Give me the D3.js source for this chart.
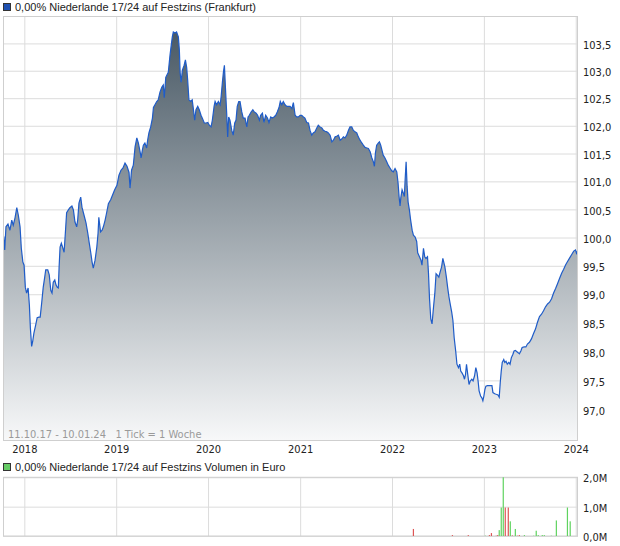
<!DOCTYPE html>
<html><head><meta charset="utf-8">
<script src="https://cdn.jsdelivr.net/npm/d3@7"></script>
<style>body{margin:0;background:#fff;} svg{display:block;}</style>
</head><body><svg id="c" width="620" height="546"></svg>
<script>
// ---------- data ----------
const titleText = "0,00% Niederlande 17/24 auf Festzins (Frankfurt)";
const volumeTitleText = "0,00% Niederlande 17/24 auf Festzins Volumen in Euro";
const rangeNote = "11.10.17 - 10.01.24   1 Tick = 1 Woche";
const startDate = "2017-10-11";
const endDate = "2024-01-10";
const yearTicks = ["2018","2019","2020","2021","2022","2023","2024"];
const priceTicks = [97.0,97.5,98.0,98.5,99.0,99.5,100.0,100.5,101.0,101.5,102.0,102.5,103.0,103.5];
const volumeTicks = [0, 1000000, 2000000];
// days after startDate
const priceDays = [0,4,9,17,25,32,38,45,52,58,65,70,76,81,86,91,97,102,106,111,115,120,127,133,140,145,151,157,163,167,175,181,187,192,197,203,208,213,217,220,224,229,234,240,245,250,257,263,271,277,283,290,294,299,306,311,319,327,334,340,346,351,356,363,370,375,378,380,385,391,396,403,409,416,425,433,441,450,458,466,474,482,490,498,502,508,515,522,529,535,542,546,551,555,561,568,572,577,584,591,595,601,608,614,621,628,634,638,644,654,661,665,670,674,681,687,694,698,701,705,710,717,722,727,731,736,743,749,753,759,764,771,777,784,791,797,804,811,817,824,829,836,840,846,853,860,864,869,873,877,881,886,890,894,899,906,912,918,923,928,934,939,946,952,959,966,971,976,983,990,996,1003,1009,1016,1021,1028,1034,1041,1048,1054,1061,1067,1074,1081,1087,1094,1099,1105,1111,1118,1125,1131,1138,1145,1151,1158,1164,1171,1178,1184,1191,1197,1204,1211,1217,1224,1230,1237,1244,1250,1257,1264,1270,1277,1284,1290,1297,1304,1310,1317,1323,1330,1337,1343,1350,1356,1363,1370,1376,1383,1389,1396,1403,1409,1416,1423,1429,1436,1443,1449,1456,1463,1469,1473,1477,1482,1489,1493,1498,1503,1508,1515,1522,1528,1535,1542,1548,1555,1562,1567,1571,1575,1578,1583,1588,1592,1595,1599,1603,1607,1612,1617,1623,1628,1635,1641,1645,1652,1658,1662,1668,1673,1678,1684,1688,1692,1697,1702,1708,1713,1718,1724,1729,1734,1740,1745,1753,1759,1764,1769,1775,1780,1785,1790,1796,1801,1807,1812,1816,1821,1827,1831,1835,1839,1844,1849,1854,1860,1865,1871,1876,1881,1885,1889,1895,1900,1904,1908,1912,1916,1922,1928,1935,1940,1944,1951,1957,1964,1969,1973,1977,1981,1987,1991,1996,2001,2007,2012,2017,2023,2028,2033,2038,2044,2049,2055,2060,2068,2075,2081,2089,2097,2105,2113,2121,2129,2137,2145,2153,2161,2169,2177,2185,2193,2201,2209,2217,2225,2233,2241,2249,2257,2265,2272,2276,2282];
const prices = [100.02,99.78,100.19,100.24,100.13,100.31,100.22,100.35,100.53,100.40,100.19,99.81,99.57,99.51,99.12,99.02,99.11,98.81,98.41,98.09,98.17,98.32,98.46,98.59,98.60,98.60,98.85,99.12,99.30,99.43,99.43,99.34,99.07,99.02,99.21,99.25,99.16,99.12,99.11,99.46,99.83,99.90,99.83,99.74,100.08,100.44,100.49,100.53,100.56,100.49,100.28,100.19,100.31,100.61,100.72,100.54,100.40,100.26,100.08,99.90,99.73,99.57,99.46,99.60,99.83,100.08,100.36,100.28,100.10,100.13,100.19,100.31,100.44,100.60,100.67,100.76,100.85,100.93,101.11,101.20,101.24,101.33,101.27,101.16,100.88,101.20,101.29,101.62,101.78,101.69,101.53,101.42,101.56,101.65,101.69,101.60,101.74,101.87,101.98,102.14,102.33,102.38,102.44,102.47,102.61,102.70,102.74,102.51,102.88,102.97,103.29,103.44,103.62,103.71,103.69,103.71,103.62,103.38,102.97,102.79,103.01,103.10,103.20,103.06,102.83,102.47,102.44,102.47,102.33,102.10,102.29,102.35,102.29,102.19,102.12,102.05,102.05,102.06,102.01,101.98,102.10,102.35,102.44,102.38,102.44,102.38,102.53,102.79,102.97,103.10,102.70,102.23,101.80,102.16,102.10,101.92,101.83,102.05,102.10,102.35,102.44,102.44,102.25,102.14,102.14,101.98,102.16,102.19,102.25,102.29,102.25,102.23,102.19,102.10,102.19,102.23,102.06,102.19,102.14,102.06,102.16,102.14,102.16,102.19,102.25,102.33,102.44,102.38,102.44,102.38,102.35,102.35,102.35,102.31,102.42,102.19,102.16,102.16,102.19,102.19,102.16,102.14,102.06,102.05,101.92,101.83,101.87,101.89,101.96,102.01,101.98,101.96,101.92,101.90,101.89,101.87,101.83,101.71,101.74,101.80,101.81,101.83,101.74,101.76,101.80,101.78,101.83,101.92,101.98,101.98,101.92,101.89,101.87,101.80,101.74,101.69,101.65,101.61,101.60,101.59,101.53,101.42,101.35,101.27,101.51,101.65,101.69,101.71,101.65,101.56,101.47,101.42,101.35,101.29,101.24,101.19,101.17,101.23,101.17,100.97,100.73,100.56,100.71,100.85,100.79,100.73,101.02,101.35,100.91,100.63,100.49,100.31,100.13,100.04,100.01,99.93,99.73,99.66,99.60,99.51,99.81,99.66,99.63,99.66,99.36,98.92,98.57,98.48,98.78,99.01,99.36,99.33,99.30,99.39,99.48,99.63,99.48,99.30,99.12,98.96,98.81,98.69,98.54,98.24,98.01,97.78,97.72,97.78,97.66,97.63,97.58,97.52,97.60,97.78,97.60,97.43,97.49,97.52,97.49,97.58,97.72,97.63,97.49,97.32,97.23,97.20,97.15,97.23,97.34,97.40,97.41,97.41,97.41,97.41,97.29,97.27,97.26,97.25,97.21,97.46,97.66,97.81,97.86,97.81,97.83,97.78,97.81,97.78,97.89,97.95,98.01,98.02,98.00,97.98,97.96,98.01,98.07,98.08,98.08,98.13,98.16,98.22,98.31,98.39,98.51,98.61,98.65,98.71,98.78,98.83,98.86,98.92,99.02,99.10,99.19,99.28,99.37,99.44,99.52,99.58,99.64,99.70,99.76,99.78,99.72,99.78];
const volumeDays = [1628,1783,1846,1914,1930,1938,1957,1963,1969,1977,1985,1993,2005,2013,2021,2033,2041,2049,2069,2106,2116,2124,2140,2148,2176,2196,2240,2251];
const volumes = [240000,30000,30000,10000,30000,100000,10000,30000,200000,970000,2000000,970000,970000,500000,20000,240000,10000,30000,30000,10000,180000,30000,30000,30000,10000,530000,970000,500000];
const volumeUp = [0,0,0,1,0,0,0,0,1,1,1,0,0,1,0,1,0,0,1,1,1,1,1,1,1,1,1,1];

// ---------- layout ----------
const svg = d3.select("#c");
const L = 3, R = 578, T = 16, B = 440;
const VT = 477.3, VB = 536;
const font = "'Liberation Sans Narrow','Arial Narrow','DejaVu Sans Condensed',sans-serif";
const font2 = "'Liberation Sans',Arial,sans-serif";
const day0 = d3.utcParse("%Y-%m-%d")(startDate);
const dayN = d3.utcParse("%Y-%m-%d")(endDate);
const toDate = d => d3.utcDay.offset(day0, d);

const x = d3.scaleUtc().domain([day0, dayN]).range([3.7, 578]);
const y = d3.scaleLog().domain([97, 103.5]).range([409.4, 43.4]);
const yv = d3.scaleLinear().domain([0, 2000000]).range([VB, VT]);
const years = yearTicks.map(s => d3.utcParse("%Y")(s));
const data = priceDays.map((d, i) => ({date: toDate(d), v: prices[i]})).filter(d => d.v != null);

// legend 1
svg.append("rect").attr("x", 3.5).attr("y", 3.5).attr("width", 7).attr("height", 7)
  .attr("fill", "#1f50b0").attr("stroke", "#333").attr("stroke-width", 1);
svg.append("text").attr("x", 15).attr("y", 11).attr("font-family", font2).attr("font-size", 11)
  .attr("fill", "#222").text(titleText);

// defs
const defs = svg.append("defs");
const grad = defs.append("linearGradient").attr("id", "g").attr("gradientUnits", "userSpaceOnUse")
  .attr("x1", 0).attr("x2", 0).attr("y1", 32).attr("y2", B);
grad.append("stop").attr("offset", 0).attr("stop-color", "#4a5a66");
grad.append("stop").attr("offset", 1).attr("stop-color", "#f7f8f9");
defs.append("clipPath").attr("id", "clip").append("rect").attr("x", L).attr("y", T).attr("width", R - L).attr("height", B - T);

// main grid
const gx = svg.append("g").attr("transform", `translate(0,${B})`)
  .call(d3.axisBottom(x).tickValues(years).tickFormat(d3.utcFormat("%Y")).tickSize(-(B - T)).tickPadding(5));
gx.select(".domain").remove();
gx.selectAll("line").attr("stroke", "#dcdcdc");
gx.selectAll("text").attr("font-family", font).attr("font-size", 11).attr("fill", "#222");

const gy = svg.append("g").attr("transform", `translate(${R},0)`)
  .call(d3.axisRight(y).tickValues(priceTicks).tickFormat(d => d3.format(".1f")(d).replace(".", ",")).tickSize(-(R - L)).tickPadding(5));
gy.select(".domain").remove();
gy.selectAll("line").attr("stroke", "#dcdcdc");
gy.selectAll("text").attr("font-family", font).attr("font-size", 11).attr("fill", "#222").attr("dy", "0.42em");

// area + line
const plot = svg.append("g").attr("clip-path", "url(#clip)");
plot.append("path").datum(data)
  .attr("d", d3.area().x(d => x(d.date)).y0(B).y1(d => y(d.v)))
  .attr("fill", "url(#g)");
plot.append("path").datum(data)
  .attr("d", d3.line().x(d => x(d.date)).y(d => y(d.v)))
  .attr("fill", "none").attr("stroke", "#1f5cc8").attr("stroke-width", 1.2);

svg.append("rect").attr("x", L + 0.5).attr("y", T + 0.5).attr("width", R - L - 1).attr("height", B - T)
  .attr("fill", "none").attr("stroke", "#cfcfcf");

svg.append("text").attr("x", 8).attr("y", 438).attr("font-family", font).attr("font-size", 11)
  .attr("fill", "#9a9a9a").attr("xml:space", "preserve").style("white-space", "pre").text(rangeNote);

// volume panel
svg.append("rect").attr("x", 3.5).attr("y", 463.5).attr("width", 7).attr("height", 7)
  .attr("fill", "#66cc66").attr("stroke", "#333").attr("stroke-width", 1);
svg.append("text").attr("x", 15).attr("y", 471).attr("font-family", font2).attr("font-size", 11)
  .attr("fill", "#222").text(volumeTitleText);

const vx = svg.append("g").attr("transform", `translate(0,${VB})`)
  .call(d3.axisBottom(x).tickValues(years).tickFormat("").tickSize(-(VB - VT)));
vx.select(".domain").remove();
vx.selectAll("line").attr("stroke", "#dcdcdc");

const vy = svg.append("g").attr("transform", `translate(${R},0)`)
  .call(d3.axisRight(yv).tickValues(volumeTicks).tickFormat(d => d3.format(".1f")(d / 1e6).replace(".", ",") + "M").tickSize(-(R - L)).tickPadding(5));
vy.select(".domain").remove();
vy.selectAll("line").attr("stroke", "#dcdcdc");
vy.selectAll("text").attr("font-family", font).attr("font-size", 11).attr("fill", "#222").attr("dy", "0.42em");

svg.append("rect").attr("x", L + 0.5).attr("y", VT).attr("width", R - L - 1).attr("height", VB - VT)
  .attr("fill", "none").attr("stroke", "#cfcfcf");

svg.append("g").selectAll("rect").data(volumeDays.map((d, i) => ({date: toDate(d), v: volumes[i], up: volumeUp[i]})))
  .join("rect")
  .attr("x", d => x(d.date) - 0.6).attr("width", 1.2)
  .attr("y", d => yv(d.v)).attr("height", d => VB - yv(d.v))
  .attr("fill", d => d.up ? "#5fd35f" : "#dd5555");
</script>
</body></html>
